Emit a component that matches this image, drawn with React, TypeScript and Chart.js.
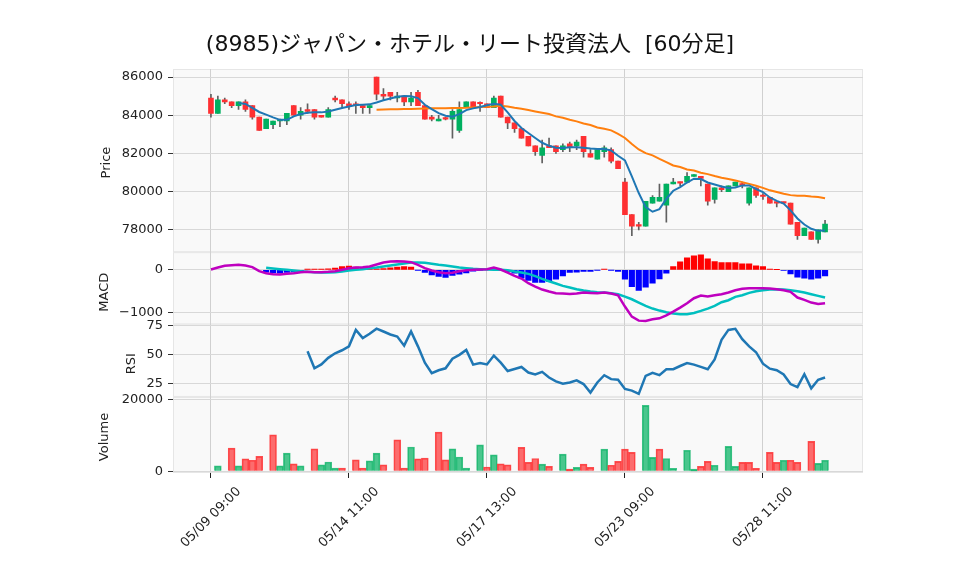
import React, { useEffect, useRef } from 'react';
import { Chart, registerables } from 'chart.js';

Chart.register(...registerables);

const TITLE = '(8985)ジャパン・ホテル・リート投資法人  [60分足]';

const xTickIndex = [0, 20, 40, 60, 80];
const xTickLabels = ['05/09 09:00', '05/14 11:00', '05/17 13:00', '05/23 09:00', '05/28 11:00'];

const priceTicks = [78000, 80000, 82000, 84000, 86000];
const macdTicks = [-1000, 0];
const rsiTicks = [25, 50, 75];
const volTicks = [0, 20000];

const opens = [84900,84100,84800,84700,84500,84700,84500,83900,83300,83500,83700,83700,84500,84000,84300,84300,84000,83900,84900,84800,
84600,84600,84500,84400,86000,85100,85200,84900,85000,84700,85200,84500,83900,83700,83850,83800,83200,84400,84700,84650,
84600,84400,85000,83900,83600,83300,82900,82400,81900,82400,82400,82200,82500,82400,82900,82000,81700,82100,82200,81600,
80500,78800,78250,78200,79400,79500,79300,80400,80500,80500,80800,80800,80400,79600,80200,80000,80300,80400,79400,80200,
79800,79700,79450,79450,79400,78400,77700,77900,77500,77900];
const highs = [85100,85000,84900,84700,84700,84800,84500,83900,83800,83700,83800,84100,84500,84400,84600,84300,84000,84400,85000,84800,
84700,84700,84500,84500,86000,85400,85200,85200,85000,85200,85300,84500,84000,84000,83900,84300,84700,84700,84700,84700,
84600,85000,85000,83900,83600,83300,82900,82400,82700,82800,82400,82500,82600,82700,82900,82200,82200,82400,82300,81600,
80700,78800,78400,79500,79800,80400,80400,80700,80500,81000,80900,80800,80400,80200,80300,80300,80500,80500,80200,80200,
79900,79700,79450,79450,79400,78400,78100,77900,78000,78500];
const lows = [83900,84100,84600,84400,84300,84200,83800,83200,83300,83300,83400,83500,84000,83800,84100,83800,83900,83900,84700,84400,
84300,84100,84100,84100,84800,84800,84800,84700,84500,84500,84500,83800,83700,83700,83750,82800,83100,84400,84400,84200,
84400,84400,83900,83300,83100,82800,82400,81900,81500,82300,82000,82100,82100,82200,81800,81800,81700,81800,81500,81200,
78800,77700,78000,78200,79400,79500,78400,80400,80300,80500,80800,80300,79300,79400,80000,80000,80300,80200,79300,79700,
79600,79400,79200,79400,78300,77500,77700,77500,77300,77900];
const closes = [84100,84800,84700,84500,84700,84300,83900,83200,83800,83700,83750,84100,84000,84200,84200,83900,83900,84300,84800,84600,
84500,84500,84400,84500,85100,85000,85000,85000,84700,84900,84500,83800,83800,83800,83800,84200,84300,84700,84400,84600,
84400,84900,83900,83600,83300,82800,82400,82100,82300,82300,82100,82400,82300,82600,82100,81800,82200,82300,81600,81200,
78800,78200,78200,79500,79700,79700,80400,80500,80450,80800,80900,80700,79500,80200,80100,80300,80500,80350,80200,79800,
79750,79400,79400,79400,78300,77700,78100,77500,78000,78300];

const ma5 = [null,null,null,null,84640,84590,84380,84170,84030,83890,83760,83760,83940,84060,84130,84150,84150,84200,84290,84380,
84460,84530,84550,84570,84670,84780,84880,84970,85000,84990,84900,84550,84320,84110,83970,83920,84060,84270,84360,84430,
84520,84600,84550,84150,83700,83330,83070,82810,82560,82400,82300,82280,82320,82330,82300,82260,82230,82230,82160,81880,
81640,80800,79930,79190,78950,79090,79630,80050,80240,80480,80680,80660,80480,80380,80270,80190,80220,80330,80330,80140,
79980,79700,79520,79380,79020,78600,78280,78060,77950,77970];
const ma25 = [null,null,null,null,null,null,null,null,null,null,null,null,null,null,null,null,null,null,null,null,
null,null,null,null,84290,84300,84310,84310,84320,84330,84340,84350,84360,84370,84370,84380,84380,84390,84410,84430,
84450,84460,84500,84460,84390,84340,84270,84200,84130,84060,83940,83870,83760,83680,83570,83490,83360,83290,83210,83030,
82810,82490,82210,82020,81900,81720,81550,81370,81290,81160,81110,80990,80920,80820,80730,80660,80590,80500,80410,80310,
80200,80070,79980,79890,79820,79790,79790,79750,79720,79660];

const macd = [8,55,94,109,117,102,63,-31,-78,-102,-109,-94,-78,-55,-47,-55,-55,-47,-31,0,
39,55,63,78,125,172,195,203,195,180,117,39,-16,-55,-78,-70,-31,-8,0,8,
16,55,8,-63,-141,-203,-313,-391,-461,-508,-547,-555,-563,-555,-531,-539,-547,-531,-555,-594,
-859,-1094,-1188,-1195,-1156,-1133,-1063,-977,-883,-781,-664,-602,-625,-594,-570,-531,-477,-445,-430,-430,
-430,-438,-453,-477,-516,-648,-703,-766,-797,-781];
const signal = [null,null,null,null,null,null,null,null,47,31,16,0,-16,-31,-47,-55,-63,-63,-55,-39,
-16,0,16,39,55,78,102,125,148,172,172,164,141,117,102,78,55,39,23,16,
8,0,0,-8,-39,-63,-94,-148,-211,-266,-320,-375,-414,-453,-484,-508,-523,-531,-547,-570,
-625,-688,-766,-844,-906,-953,-992,-1023,-1039,-1039,-1008,-961,-906,-844,-758,-711,-633,-594,-539,-500,
-477,-461,-453,-461,-477,-500,-531,-570,-609,-648];
const hist = [null,null,null,null,null,null,null,null,-55,-70,-78,-62,-47,-23,16,16,16,23,39,78,
86,62,39,31,23,31,47,62,78,62,-8,-62,-117,-156,-180,-133,-101,-70,-30,-10,
5,20,5,-40,-78,-195,-250,-297,-297,-273,-219,-141,-63,-55,-39,-39,-8,16,-8,-39,
-219,-391,-484,-406,-313,-211,-78,78,188,281,328,352,258,195,172,172,172,141,141,94,
78,16,5,-16,-94,-172,-195,-219,-195,-141];

const rsi = [null,null,null,null,null,null,null,null,null,null,null,null,null,null,52.9,38.0,41.4,47.1,51.1,53.7,
57.1,71.4,64.3,68.0,72.5,70.0,67.4,65.7,57.7,70.0,57.1,42.9,33.7,36.3,38.0,46.3,49.7,54.0,41.2,42.6,
41.4,49.1,42.9,35.7,37.4,39.2,34.3,32.6,34.9,30.0,26.6,24.6,25.7,27.5,24.3,16.9,25.7,32.0,28.6,28.0,
20.0,18.6,15.8,31.4,34.0,32.0,37.2,37.2,40.0,42.6,41.2,39.2,37.2,45.7,62.8,71.4,72.3,63.4,57.1,52.0,
42.0,37.7,36.3,32.6,24.3,21.7,32.9,20.6,28.0,30.0];

const volume = [null,1500,null,6500,1500,3500,3100,4200,null,10200,1500,5100,2100,1500,null,6300,1800,2600,900,900,
null,3200,900,2900,5100,1800,null,8800,900,6800,3500,3700,null,11000,3200,6300,4000,900,null,7400,
1200,4600,2100,1800,null,6700,2500,3600,2000,1400,null,4800,600,1100,2000,1100,null,6200,1700,2800,
6200,5300,null,18500,3900,6200,3600,800,null,5900,600,1400,2800,1700,null,7000,1400,2500,2500,800,
null,5300,2500,3100,3100,2500,null,8400,2200,3100];
const volUp = [0,1,0,0,1,0,0,0,0,0,1,1,0,1,0,0,1,1,1,0,
0,0,0,1,1,0,0,0,0,1,0,0,0,0,0,1,1,1,0,1,
0,1,0,0,0,0,0,0,1,0,0,1,0,1,0,0,0,1,0,0,
0,0,0,1,1,0,1,1,0,1,1,0,0,1,0,1,1,0,0,0,
0,0,0,1,0,0,0,0,1,1];

const UP = '#00b060';
const DOWN = '#fe3032';
const PANEL_BG = '#f9f9f9';

const pts = (arr: (number | null)[]) =>
  arr.map((v, i) => (v === null ? null : { x: i, y: v })).filter((p) => p !== null) as { x: number; y: number }[];

const fontTick = { family: '"DejaVu Sans", sans-serif', size: 13 };

function yAxis(extra: any) {
  return {
    type: 'linear',
    position: 'left',
    stack: 'panels',
    border: { display: false },
    grid: { color: '#d8d8d8', lineWidth: 1, tickLength: 5, tickColor: '#333', drawTicks: true },
    ticks: {
      font: fontTick,
      color: '#222',
      padding: 5,
      callback: (v: number) => (v < 0 ? '\u2212' + Math.abs(v) : String(v)),
    },
    afterFit: (s: any) => {
      s.width = 173;
    },
    ...extra,
  };
}

const panelPlugin = {
  id: 'panels',
  beforeDraw(chart: any) {
    const { ctx, chartArea } = chart;
    ctx.save();
    ['y', 'yMacd', 'yRsi', 'yVol'].forEach((id) => {
      const s = chart.scales[id];
      ctx.fillStyle = PANEL_BG;
      ctx.fillRect(chartArea.left, s.top, chartArea.right - chartArea.left, s.bottom - s.top);
      ctx.strokeStyle = '#e6e6e6';
      ctx.lineWidth = 1;
      ctx.strokeRect(chartArea.left + 0.5, s.top + 0.5, chartArea.right - chartArea.left - 1, s.bottom - s.top - 1);
    });
    ctx.restore();
  },
  afterDraw(chart: any) {
    const { ctx, chartArea } = chart;
    ctx.save();
    ctx.fillStyle = '#111';
    ctx.font = '22px "DejaVu Sans", "Noto Sans CJK JP", sans-serif';
    ctx.textAlign = 'center';
    ctx.textBaseline = 'middle';
    ctx.fillText(TITLE, 470, 45);

    ctx.font = '13px "DejaVu Sans", sans-serif';
    ctx.fillStyle = '#222';
    const titles: [string, string, number, number][] = [
      ['Price', 'y', 107, 2],
      ['MACD', 'yMacd', 105, 4],
      ['RSI', 'yRsi', 132, 3],
      ['Volume', 'yVol', 105, 2],
    ];
    titles.forEach(([t, id, x, dy]) => {
      const s = chart.scales[id];
      ctx.save();
      ctx.translate(x, (s.top + s.bottom) / 2 + dy);
      ctx.rotate(-Math.PI / 2);
      ctx.textAlign = 'center';
      ctx.textBaseline = 'middle';
      ctx.fillText(t, 0, 0);
      ctx.restore();
    });

    const xs = chart.scales.x;
    xTickIndex.forEach((v, k) => {
      const px = xs.getPixelForValue(v);
      ctx.save();
      ctx.translate(px, chartArea.bottom + 44.5);
      ctx.rotate(-Math.PI / 4);
      ctx.textAlign = 'center';
      ctx.textBaseline = 'middle';
      ctx.fillText(xTickLabels[k], 0, 0);
      ctx.restore();
    });
    ctx.restore();
  },
};

export default function App() {
  const ref = useRef<HTMLCanvasElement>(null);
  useEffect(() => {
    if (!ref.current) return;
    const bodyColors = opens.map((o, i) => (closes[i] >= o ? UP : DOWN));
    const chart = new Chart(ref.current, {
      type: 'bar',
      data: {
        datasets: [
          {
            type: 'line',
            label: 'MA5',
            data: pts(ma5),
            yAxisID: 'y',
            borderColor: '#1f77b4',
            borderWidth: 2,
            pointRadius: 0,
            order: 0,
          },
          {
            type: 'line',
            label: 'MA25',
            data: pts(ma25),
            yAxisID: 'y',
            borderColor: '#ff7f0e',
            borderWidth: 2,
            pointRadius: 0,
            order: 0,
          },
          {
            type: 'bar',
            label: 'body',
            data: opens.map((o, i) => ({ x: i, y: [o, closes[i]] })),
            yAxisID: 'y',
            backgroundColor: bodyColors,
            borderWidth: 0,
            barThickness: 5,
            minBarLength: 1.5,
            grouped: false,
            order: 1,
          },
          {
            type: 'bar',
            label: 'wick',
            data: highs.map((h, i) => ({ x: i, y: [lows[i], h] })),
            yAxisID: 'y',
            backgroundColor: '#606060',
            borderWidth: 0,
            barThickness: 1,
            grouped: false,
            order: 2,
          },
          {
            type: 'line',
            label: 'MACD',
            data: pts(macd),
            yAxisID: 'yMacd',
            borderColor: '#bf00bf',
            borderWidth: 2.5,
            pointRadius: 0,
            order: 0,
          },
          {
            type: 'line',
            label: 'Signal',
            data: pts(signal),
            yAxisID: 'yMacd',
            borderColor: '#00bfbf',
            borderWidth: 2.5,
            pointRadius: 0,
            order: 0,
          },
          {
            type: 'bar',
            label: 'Hist',
            data: pts(hist),
            yAxisID: 'yMacd',
            backgroundColor: pts(hist).map((p) => (p.y >= 0 ? '#ff0000' : '#0000ff')),
            borderWidth: 0,
            barThickness: 5.5,
            grouped: false,
            order: 1,
          },
          {
            type: 'line',
            label: 'RSI',
            data: pts(rsi),
            yAxisID: 'yRsi',
            borderColor: '#1f77b4',
            borderWidth: 2.5,
            pointRadius: 0,
            order: 0,
          },
          {
            type: 'bar',
            label: 'Volume',
            data: pts(volume),
            yAxisID: 'yVol',
            backgroundColor: volume
              .map((v, i) => (v === null ? null : volUp[i] ? 'rgba(0,176,96,0.7)' : 'rgba(254,48,50,0.7)'))
              .filter((c) => c !== null) as string[],
            borderColor: volume
              .map((v, i) => (v === null ? null : volUp[i] ? 'rgba(0,176,96,0.75)' : 'rgba(254,48,50,0.85)'))
              .filter((c) => c !== null) as string[],
            borderWidth: 1,
            barPercentage: 1,
            categoryPercentage: 1,
            grouped: false,
            order: 1,
          },
        ],
      },
      options: {
        responsive: false,
        animation: false,
        layout: { padding: { left: 0, top: 69, right: 95, bottom: 0 } },
        plugins: { legend: { display: false }, tooltip: { enabled: false }, title: { display: false } },
        scales: {
          x: {
            type: 'linear',
            offset: false,
            min: -5.5,
            max: 94.5,
            border: { display: false },
            grid: { offset: false, color: '#d0d0d0', lineWidth: 1, tickLength: 5, tickColor: '#222', drawTicks: true },
            ticks: { display: false },
            afterBuildTicks: (s: any) => {
              s.ticks = xTickIndex.map((v) => ({ value: v }));
            },
            afterFit: (s: any) => {
              s.height = 102;
            },
          },
          yVol: yAxis({
            stackWeight: 76,
            min: -477,
            max: 20842,
            afterBuildTicks: (s: any) => {
              s.ticks = volTicks.map((v) => ({ value: v }));
            },
          }),
          yRsi: yAxis({
            stackWeight: 72.5,
            min: 13.1,
            max: 76.2,
            afterBuildTicks: (s: any) => {
              s.ticks = rsiTicks.map((v) => ({ value: v }));
            },
          }),
          yMacd: yAxis({
            stackWeight: 72.2,
            min: -1276,
            max: 414,
            afterBuildTicks: (s: any) => {
              s.ticks = macdTicks.map((v) => ({ value: v }));
            },
          }),
          y: yAxis({
            stackWeight: 183,
            min: 76837,
            max: 86419,
            afterBuildTicks: (s: any) => {
              s.ticks = priceTicks.map((v) => ({ value: v }));
            },
          }),
        },
      } as any,
      plugins: [panelPlugin],
    });
    return () => chart.destroy();
  }, []);

  return (
    <div style={{ position: 'fixed', left: 0, top: 0, width: 958, height: 575, background: '#fff' }}>
      <canvas ref={ref} width={958} height={575} style={{ display: 'block' }} />
    </div>
  );
}
